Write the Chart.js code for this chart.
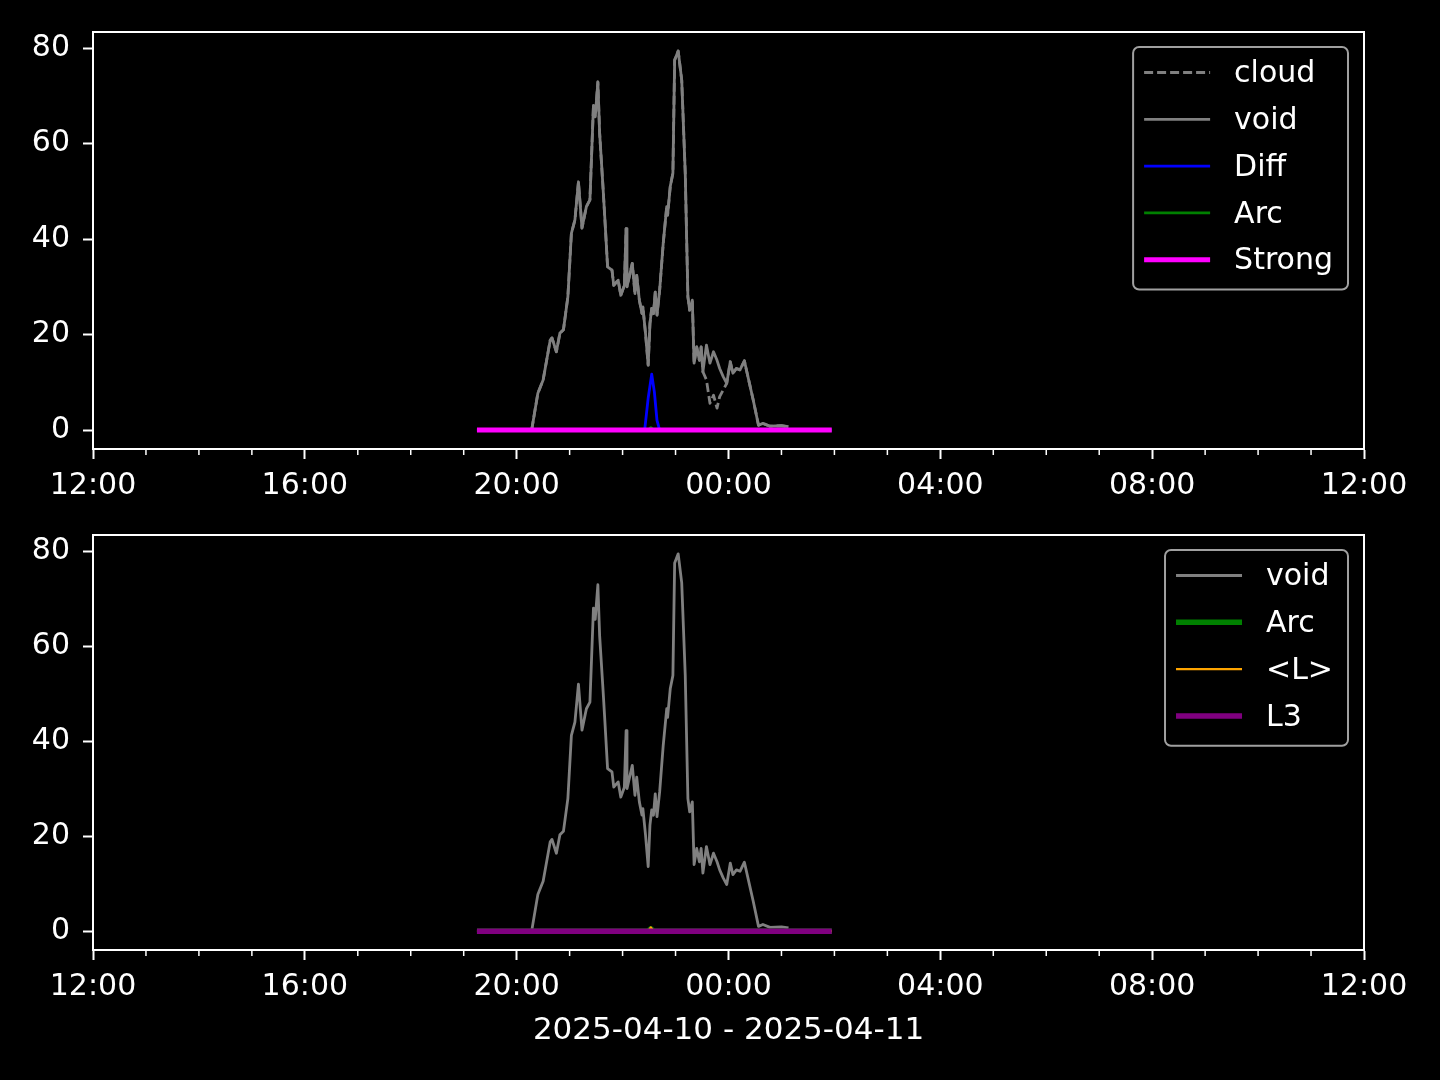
<!DOCTYPE html>
<html>
<head>
<meta charset="utf-8">
<script src="https://cdn.jsdelivr.net/npm/chart.js@4.4.1/dist/chart.umd.min.js"></script>
<style>
  html, body { margin: 0; padding: 0; background: #000; }
  #wrap { position: relative; width: 1440px; height: 1080px; }
  canvas { position: absolute; left: 0; }
</style>
</head>
<body>
<div id="wrap">
  <canvas id="topChart" width="1440" height="510" style="top:0"></canvas>
  <canvas id="bottomChart" width="1440" height="570" style="top:510px"></canvas>
</div>
<script>
// time stamps (local clock)
const voidTimes = ['20:17','20:24','20:30','20:38','20:40','20:45','20:49','20:53','20:58',
  '21:02','21:06','21:10','21:14','21:19','21:23','21:27','21:29','21:32','21:34','21:38','21:40','21:43','21:48','21:50','21:55','21:58',
  '22:02','22:04','22:05','22:11','22:14','22:16','22:19','22:22','22:23','22:26','22:29','22:31','22:33','22:35','22:37','22:39','22:42','22:46','22:50','22:51','22:54','22:57','22:59',
  '23:03','23:07','23:11','23:14','23:16','23:19','23:21','23:24','23:27','23:29','23:31','23:35','23:39','23:43','23:47','23:50','23:54','23:58',
  '00:02','00:05','00:09','00:13','00:18','00:22','00:28','00:34','00:39','00:47','01:00','01:08'];

const voidVals = [0,7.7,10.5,18.8,19.3,16.4,20.3,21,27.9,
  41.2,44,52,42.3,46.8,48.2,68,65.6,72.9,62.2,50.3,44,34.2,33.5,30.3,31.4,28.2,
  30.3,42.2,30,34.9,28.6,32.4,27.2,24.4,25.8,20.2,13.6,22.3,25.5,24.4,28.9,24.1,29.3,39,46.8,45,51,53.8,77.5,
  79.4,73.3,53.8,27.9,25.1,27.2,14,17.4,14.6,17.4,12.2,17.8,14,16.4,14.6,12.9,11.2,9.8,
  14.3,11.9,12.9,12.6,14.5,11.2,6.3,1,1.4,0.8,0.9,0.7];

const cloudVals = [0,7.7,10.5,18.8,19.3,16.4,20.3,21,27.9,
  41.2,44,52,42.3,46.8,48.2,68,65.6,72.9,62.2,50.3,44,34.2,33.5,30.3,31.4,28.2,
  30.3,42.2,30,34.9,28.6,32.4,27.2,24.4,25.8,20.2,13.6,22.3,25.5,24.4,28.9,24.1,29.3,39,46.8,45,51,53.8,77.5,
  79.4,73.3,53.8,27.9,25.1,27.2,14,17.4,14.6,17.4,12.2,10.5,5.6,7.3,4.6,7.0,8.4,9.8,
  14.3,11.9,12.9,12.6,14.5,11.2,6.3,1,1.4,0.8,0.9,0.7];

const diffTimes = ['19:15','22:25','22:29','22:33','22:36','22:39','22:42','01:57'];
const diffVals = [0,0,6.7,11.7,8,2,0,0];

const arcTimes = ['19:15','22:29','22:32','22:35','01:57'];
const arcVals = [0,0,0.5,0,0];
const meanLVals = [0,0,0.8,0,0];

const flatTimes = ['19:15','01:57'];
const strongVals = [0,0];
const l3Vals = [0,0];

const xTicks = [0,240,480,720,960,1200,1440];
const xTickLabels = ['12:00','16:00','20:00','00:00','04:00','08:00','12:00'];
const yTicks = [0,20,40,60,80];
const dateLabel = '2025-04-10 - 2025-04-11';

Chart.defaults.font.family = '"DejaVu Sans", sans-serif';
Chart.defaults.font.size = 30;
Chart.defaults.color = 'white';

// minutes after 12:00 on the first day
function toMin(t) {
  const [h, m] = t.split(':').map(Number);
  let v = h * 60 + m - 720;
  if (v < 0) v += 1440;
  return v;
}

function series(label, times, vals, color, width, order, dash) {
  return {
    label: label,
    data: times.map((t, i) => ({ x: toMin(t), y: vals[i] })),
    borderColor: color,
    borderWidth: width,
    borderDash: dash || [],
    order: order,
    pointRadius: 0,
    tension: 0,
    borderJoinStyle: 'round'
  };
}

// white box round the axes + minor hour ticks
const frame = {
  id: 'frame',
  afterDraw(chart) {
    const a = chart.chartArea, ctx = chart.ctx;
    ctx.save();
    ctx.strokeStyle = 'white';
    ctx.lineWidth = 2;
    ctx.strokeRect(a.left, a.top, a.right - a.left, a.bottom - a.top);
    const xs = chart.scales.x;
    ctx.lineWidth = 1.5;
    for (let m = 60; m < 1440; m += 60) {
      if (m % 240 === 0) continue;
      const px = xs.getPixelForValue(m);
      ctx.beginPath();
      ctx.moveTo(px, a.bottom);
      ctx.lineTo(px, a.bottom + 6);
      ctx.stroke();
    }
    ctx.restore();
  }
};

// matplotlib-like legend in the upper right corner
const boxLegend = {
  id: 'boxLegend',
  afterDraw(chart) {
    const ctx = chart.ctx, a = chart.chartArea;
    const sets = chart.data.datasets;
    ctx.save();
    ctx.font = '30px "DejaVu Sans"';
    const tw = Math.max(...sets.map(d => ctx.measureText(d.label).width));
    const rowH = 46.8;
    const w = 11 + 66 + 24 + tw + 15;
    const h = sets.length * rowH + 8.5;
    const x = a.right - 16 - w;
    const y = a.top + 15;
    ctx.beginPath();
    ctx.roundRect(x, y, w, h, 6);
    ctx.fillStyle = '#000';
    ctx.fill();
    ctx.strokeStyle = '#a0a0a0';
    ctx.lineWidth = 2;
    ctx.stroke();
    sets.forEach((d, i) => {
      const cy = y + 25.5 + i * rowH;
      ctx.beginPath();
      ctx.setLineDash(d.borderDash);
      ctx.strokeStyle = d.borderColor;
      ctx.lineWidth = d.borderWidth;
      ctx.moveTo(x + 11, cy);
      ctx.lineTo(x + 77, cy);
      ctx.stroke();
      ctx.setLineDash([]);
      ctx.fillStyle = 'white';
      ctx.textBaseline = 'middle';
      ctx.fillText(d.label, x + 101, cy + 2);
    });
    ctx.restore();
  }
};

function makeOptions(padTop, xHeight, title) {
  const tickGrid = { drawOnChartArea: false, tickLength: 10, tickColor: 'white', tickWidth: 2 };
  const border = { display: true, color: 'white', width: 2 };
  return {
    responsive: false,
    animation: false,
    devicePixelRatio: 1,
    layout: { padding: { top: padTop, right: 76, left: 0, bottom: 0 } },
    plugins: { legend: { display: false }, tooltip: { enabled: false } },
    scales: {
      x: {
        type: 'linear', min: 0, max: 1440,
        afterBuildTicks: s => { s.ticks = xTicks.map(v => ({ value: v })); },
        afterFit: s => { s.height = xHeight; s.paddingLeft = 0; s.paddingRight = 0; },
        ticks: { callback: (v, i) => xTickLabels[i], padding: 9, maxRotation: 0, autoSkip: false },
        grid: tickGrid,
        border: border,
        title: title
          ? { display: true, text: title, color: 'white', font: { size: 31 }, padding: { top: 0, bottom: 30 } }
          : { display: false }
      },
      y: {
        min: -3.97, max: 83.37,
        afterBuildTicks: s => { s.ticks = yTicks.map(v => ({ value: v })); },
        afterFit: s => { s.width = 93; s.paddingTop = 0; s.paddingBottom = 0; },
        ticks: { padding: 13 },
        grid: tickGrid,
        border: border
      }
    }
  };
}

new Chart(document.getElementById('topChart'), {
  type: 'line',
  data: {
    datasets: [
      series('cloud', voidTimes, cloudVals, '#808080', 2.8, 5, [9, 4]),
      series('void', voidTimes, voidVals, '#808080', 2.8, 4),
      series('Diff', diffTimes, diffVals, '#0000ff', 2.8, 3),
      series('Arc', arcTimes, arcVals, '#008000', 2.8, 2),
      series('Strong', flatTimes, strongVals, '#ff00ff', 5, 1)
    ]
  },
  options: makeOptions(32, 61, null),
  plugins: [frame, boxLegend]
});

new Chart(document.getElementById('bottomChart'), {
  type: 'line',
  data: {
    datasets: [
      series('void', voidTimes, voidVals, '#808080', 2.8, 4),
      series('Arc', arcTimes, arcVals, '#008000', 5.5, 3),
      series('<L>', arcTimes, meanLVals, '#ffa500', 2.2, 2),
      series('L3', flatTimes, l3Vals, '#800080', 5.5, 1)
    ]
  },
  options: makeOptions(25, 130, dateLabel),
  plugins: [frame, boxLegend]
});
</script>
</body>
</html>
